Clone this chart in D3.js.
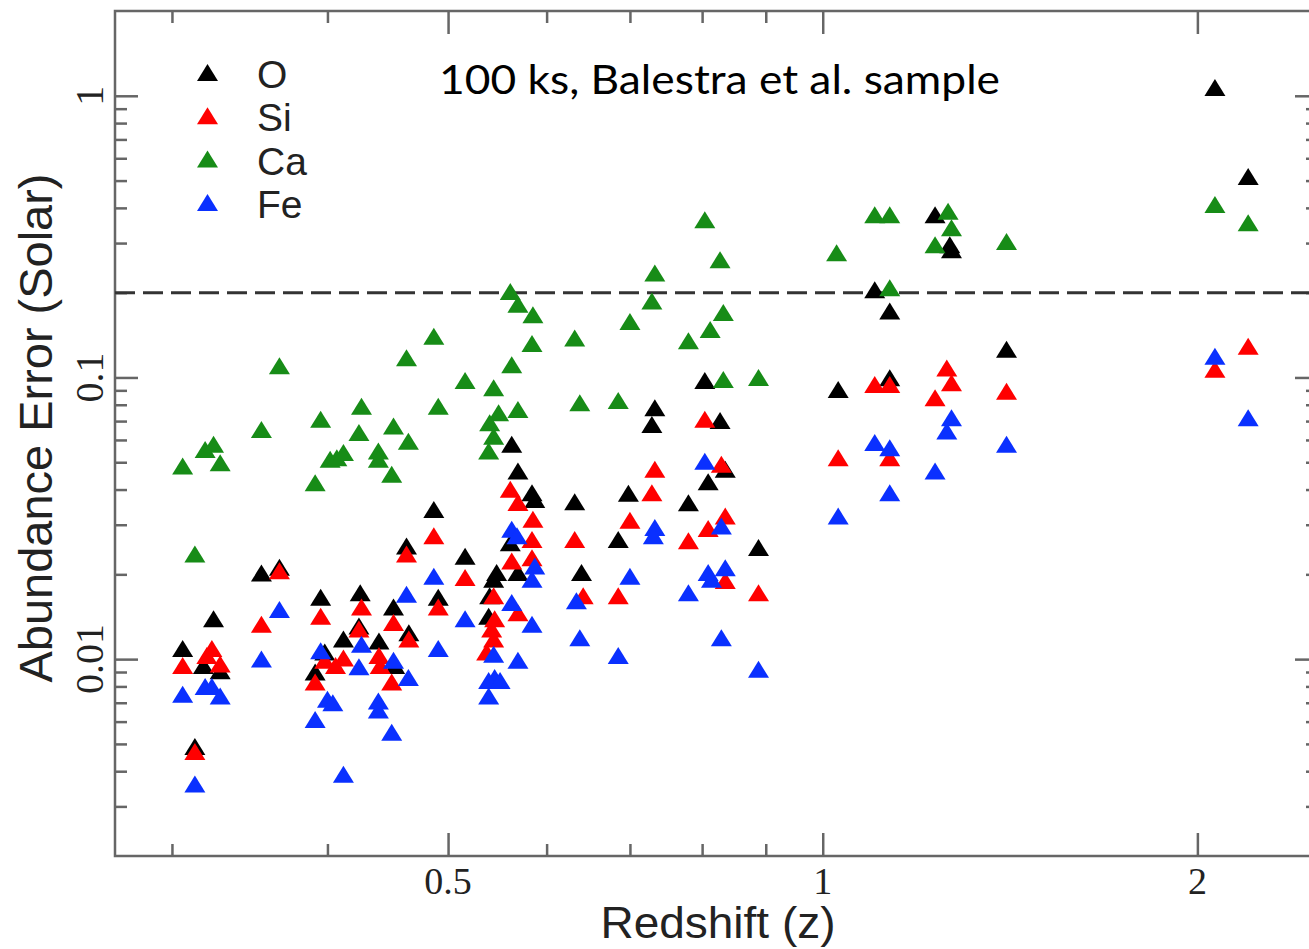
<!DOCTYPE html>
<html>
<head>
<meta charset="utf-8">
<script src="https://cdn.jsdelivr.net/npm/d3@7"></script>
<style>
body { margin: 0; background: #fff; }
</style>
</head>
<body>
<div id="content"></div>
<script>
// redshift z, abundance error (solar) for each element
var oxygen = [
    [0.306, 0.0109], [0.324, 0.0139], [0.318, 0.0095], [0.328, 0.0091], [0.313, 0.0049],
    [0.354, 0.0202], [0.366, 0.0212], [0.395, 0.0166], [0.398, 0.0106], [0.391, 0.0090],
    [0.412, 0.0118], [0.425, 0.0172], [0.424, 0.0131], [0.440, 0.0116], [0.452, 0.0153],
    [0.453, 0.0095], [0.465, 0.0124], [0.463, 0.0252], [0.487, 0.0340], [0.491, 0.0166],
    [0.516, 0.0232], [0.540, 0.0168], [0.539, 0.0142], [0.547, 0.0203], [0.544, 0.0192],
    [0.5625, 0.0579], [0.569, 0.0465], [0.561, 0.0259], [0.569, 0.0203], [0.584, 0.0390],
    [0.587, 0.0369], [0.632, 0.0362], [0.640, 0.0203], [0.685, 0.0266], [0.698, 0.0388],
    [0.733, 0.0781], [0.729, 0.0681], [0.780, 0.0359], [0.804, 0.0976], [0.809, 0.0426],
    [0.827, 0.0704], [0.835, 0.0472], [0.888, 0.0249], [1.029, 0.0907], [1.101, 0.205],
    [1.132, 0.172], [1.132, 0.0998], [1.231, 0.378], [1.265, 0.296], [1.269, 0.284],
    [1.405, 0.126], [2.066, 1.07], [2.197, 0.517]
];

var silicon = [
    [0.306, 0.0095], [0.323, 0.0109], [0.320, 0.0103], [0.328, 0.0096], [0.313, 0.0047],
    [0.354, 0.0133], [0.366, 0.0206], [0.395, 0.0142], [0.398, 0.0099], [0.406, 0.0095],
    [0.391, 0.0083], [0.412, 0.0101], [0.426, 0.0153], [0.424, 0.0128], [0.440, 0.0103],
    [0.441, 0.0095], [0.452, 0.0135], [0.4505, 0.0083], [0.465, 0.0118], [0.463, 0.0236],
    [0.487, 0.0274], [0.491, 0.0153], [0.516, 0.0195], [0.544, 0.0168], [0.545, 0.0139],
    [0.542, 0.0128], [0.544, 0.0118], [0.537, 0.0106], [0.561, 0.0401], [0.569, 0.0360],
    [0.5625, 0.0223], [0.569, 0.0146], [0.585, 0.0314], [0.584, 0.0266], [0.584, 0.0229],
    [0.632, 0.0266], [0.642, 0.0168], [0.685, 0.0168], [0.700, 0.0311], [0.733, 0.0472],
    [0.729, 0.0390], [0.780, 0.0263], [0.804, 0.0710], [0.809, 0.0291], [0.829, 0.0492],
    [0.835, 0.0322], [0.835, 0.0190], [0.888, 0.0172], [1.029, 0.0519], [1.101, 0.0944],
    [1.132, 0.0944], [1.132, 0.0519], [1.231, 0.0847], [1.258, 0.108], [1.269, 0.0958],
    [1.405, 0.0894], [2.066, 0.107], [2.197, 0.129]
];

var calcium = [
    [0.306, 0.0485], [0.313, 0.0236], [0.319, 0.0555], [0.324, 0.0579], [0.328, 0.0498],
    [0.354, 0.0654], [0.366, 0.110], [0.391, 0.0423], [0.395, 0.0710], [0.402, 0.0512],
    [0.407, 0.0519], [0.412, 0.0541], [0.424, 0.0637], [0.426, 0.0791], [0.4395, 0.0548],
    [0.4395, 0.0512], [0.4505, 0.0453], [0.452, 0.0672], [0.4646, 0.0594], [0.463, 0.1175],
    [0.487, 0.140], [0.491, 0.0791], [0.516, 0.0976], [0.544, 0.0919], [0.569, 0.0770],
    [0.549, 0.0750], [0.540, 0.0691], [0.544, 0.0619], [0.539, 0.0548], [0.5625, 0.111],
    [0.584, 0.132], [0.585, 0.167], [0.569, 0.182], [0.561, 0.202], [0.632, 0.138],
    [0.638, 0.0813], [0.685, 0.0829], [0.700, 0.158], [0.729, 0.187], [0.733, 0.235],
    [0.780, 0.135], [0.804, 0.363], [0.812, 0.148], [0.827, 0.262], [0.832, 0.170],
    [0.832, 0.0984], [0.888, 0.100], [1.026, 0.277], [1.101, 0.378], [1.132, 0.378],
    [1.132, 0.208], [1.231, 0.296], [1.261, 0.389], [1.269, 0.340], [1.405, 0.304],
    [2.066, 0.411], [2.197, 0.354]
];

var iron = [
    [0.306, 0.0075], [0.319, 0.0080], [0.323, 0.0080], [0.328, 0.0074], [0.313, 0.0036],
    [0.354, 0.0100], [0.366, 0.0150], [0.395, 0.0107], [0.391, 0.0061], [0.400, 0.0072],
    [0.404, 0.0070], [0.412, 0.0039], [0.426, 0.0113], [0.424, 0.0094], [0.4395, 0.0071],
    [0.4395, 0.0066], [0.452, 0.0099], [0.4505, 0.0055], [0.4646, 0.0086], [0.463, 0.0170],
    [0.487, 0.0197], [0.491, 0.0109], [0.516, 0.0139], [0.544, 0.0104], [0.545, 0.0086],
    [0.539, 0.0084], [0.5505, 0.0084], [0.539, 0.0074], [0.5625, 0.0289], [0.568, 0.0274],
    [0.5625, 0.0159], [0.569, 0.0099], [0.587, 0.0214], [0.584, 0.0192], [0.584, 0.0133],
    [0.634, 0.0161], [0.638, 0.0119], [0.685, 0.0103], [0.700, 0.0197], [0.733, 0.0293],
    [0.731, 0.0274], [0.780, 0.0172], [0.804, 0.0504], [0.809, 0.0203], [0.814, 0.0192],
    [0.829, 0.0297], [0.835, 0.0211], [0.829, 0.0119], [0.888, 0.0092], [1.029, 0.0322],
    [1.101, 0.0587], [1.132, 0.0563], [1.132, 0.0390], [1.231, 0.0465], [1.258, 0.0645],
    [1.269, 0.0720], [1.405, 0.0579], [2.066, 0.119], [2.197, 0.0720]
];

var seriesNames = ["O", "Si", "Ca", "Fe"];
var seriesColors = ["#000000", "#ff0000", "#178c17", "#0a30ff"];

var xMajorTicks = [0.5, 1, 2];
var xMinorTicks = [0.3, 0.4, 0.6, 0.7, 0.8, 0.9];
var xTickLabels = ["0.5", "1", "2"];
var yMajorTicks = [0.01, 0.1, 1];
var yMinorTicks = [0.003, 0.004, 0.005, 0.006, 0.007, 0.008, 0.009,
    0.02, 0.03, 0.04, 0.05, 0.06, 0.07, 0.08, 0.09,
    0.2, 0.3, 0.4, 0.5, 0.6, 0.7, 0.8, 0.9];
var yTickLabels = ["0.01", "0.1", "1"];
var limitLevel = 0.2;

render([oxygen, silicon, calcium, iron]);

function render(allSeries) {
    var width = 1309,
        height = 949;
    var plot = {left: 115, right: 1318, top: 11, bottom: 856};

    var svg = d3.select("div#content").append("svg")
        .attr("width", width)
        .attr("height", height)
        .style("background", "#fff");

    var x = d3.scaleLog().domain([0.27, 2.5]).range([plot.left, plot.right]);
    var y = d3.scaleLog().domain([0.002, 2]).range([plot.bottom, plot.top]);

    var frameColor = "#666";

    function tickGroup(axis, values, size, transform) {
        var g = svg.append("g")
            .attr("transform", transform)
            .call(axis.tickValues(values).tickSize(size).tickFormat(""));
        g.select(".domain").remove();
        g.selectAll(".tick line")
            .attr("stroke", frameColor)
            .attr("stroke-width", 2.5);
    }

    // inward ticks on all four sides
    tickGroup(d3.axisBottom(x), xMajorTicks, -23, "translate(0," + plot.bottom + ")");
    tickGroup(d3.axisBottom(x), xMinorTicks, -12, "translate(0," + plot.bottom + ")");
    tickGroup(d3.axisTop(x), xMajorTicks, -23, "translate(0," + plot.top + ")");
    tickGroup(d3.axisTop(x), xMinorTicks, -12, "translate(0," + plot.top + ")");
    tickGroup(d3.axisLeft(y), yMajorTicks, -23, "translate(" + plot.left + ",0)");
    tickGroup(d3.axisLeft(y), yMinorTicks, -12, "translate(" + plot.left + ",0)");
    tickGroup(d3.axisRight(y), yMajorTicks, -23, "translate(" + plot.right + ",0)");
    tickGroup(d3.axisRight(y), yMinorTicks, -12, "translate(" + plot.right + ",0)");

    svg.append("rect")
        .attr("x", plot.left)
        .attr("y", plot.top)
        .attr("width", plot.right - plot.left)
        .attr("height", plot.bottom - plot.top)
        .attr("fill", "none")
        .attr("stroke", frameColor)
        .attr("stroke-width", 2.5);

    // tick labels
    svg.selectAll(".xlabel")
        .data(xMajorTicks)
        .enter().append("text")
        .attr("class", "xlabel")
        .attr("x", function(d) { return x(d); })
        .attr("y", 894)
        .attr("text-anchor", "middle")
        .style("font-family", "'Liberation Serif', 'DejaVu Serif', serif")
        .style("font-size", "38px")
        .attr("fill", "#222")
        .text(function(d, i) { return xTickLabels[i]; });

    svg.selectAll(".ylabel")
        .data(yMajorTicks)
        .enter().append("text")
        .attr("class", "ylabel")
        .attr("transform", function(d) { return "translate(103," + y(d) + ") rotate(-90)"; })
        .attr("text-anchor", "middle")
        .style("font-family", "'Liberation Serif', 'DejaVu Serif', serif")
        .style("font-size", "40px")
        .attr("fill", "#222")
        .text(function(d, i) { return yTickLabels[i]; });

    // axis titles
    svg.append("text")
        .attr("x", 718)
        .attr("y", 938)
        .attr("text-anchor", "middle")
        .attr("textLength", 235)
        .attr("lengthAdjust", "spacingAndGlyphs")
        .style("font-family", "'Liberation Sans', Arial, sans-serif")
        .style("font-size", "44px")
        .attr("fill", "#222")
        .text("Redshift (z)");

    svg.append("text")
        .attr("transform", "translate(52,428) rotate(-90)")
        .attr("text-anchor", "middle")
        .attr("textLength", 509)
        .attr("lengthAdjust", "spacingAndGlyphs")
        .style("font-family", "'Liberation Sans', Arial, sans-serif")
        .style("font-size", "47px")
        .attr("fill", "#222")
        .text("Abundance Error (Solar)");

    // dashed limit line
    svg.append("line")
        .attr("x1", plot.left)
        .attr("x2", plot.right)
        .attr("y1", y(limitLevel))
        .attr("y2", y(limitLevel))
        .attr("stroke", "#333")
        .attr("stroke-width", 3)
        .attr("stroke-dasharray", "20,8");

    var triangle = "M0,-8.5L10.5,8.5L-10.5,8.5Z";

    allSeries.forEach(function(series, i) {
        svg.append("g").selectAll("path")
            .data(series)
            .enter().append("path")
            .attr("d", triangle)
            .attr("transform", function(d) {
                return "translate(" + x(d[0]) + "," + y(d[1]) + ")";
            })
            .attr("fill", seriesColors[i]);
    });

    // legend
    var legend = svg.append("g");
    seriesNames.forEach(function(name, i) {
        legend.append("path")
            .attr("d", triangle)
            .attr("transform", "translate(207.5," + (72.5 + i * 43.3) + ")")
            .attr("fill", seriesColors[i]);
        legend.append("text")
            .attr("x", 257)
            .attr("y", 88 + i * 43.4)
            .style("font-family", "'Liberation Sans', Arial, sans-serif")
            .style("font-size", "39px")
            .attr("fill", "#222")
            .text(name);
    });

    // annotation
    svg.append("text")
        .attr("x", 439)
        .attr("y", 94)
        .attr("textLength", 561)
        .attr("lengthAdjust", "spacingAndGlyphs")
        .style("font-family", "Lato, 'Open Sans', sans-serif")
        .style("font-size", "41px")
        .attr("fill", "#000")
        .text("100 ks, Balestra et al. sample");
}
</script>
</body>
</html>
